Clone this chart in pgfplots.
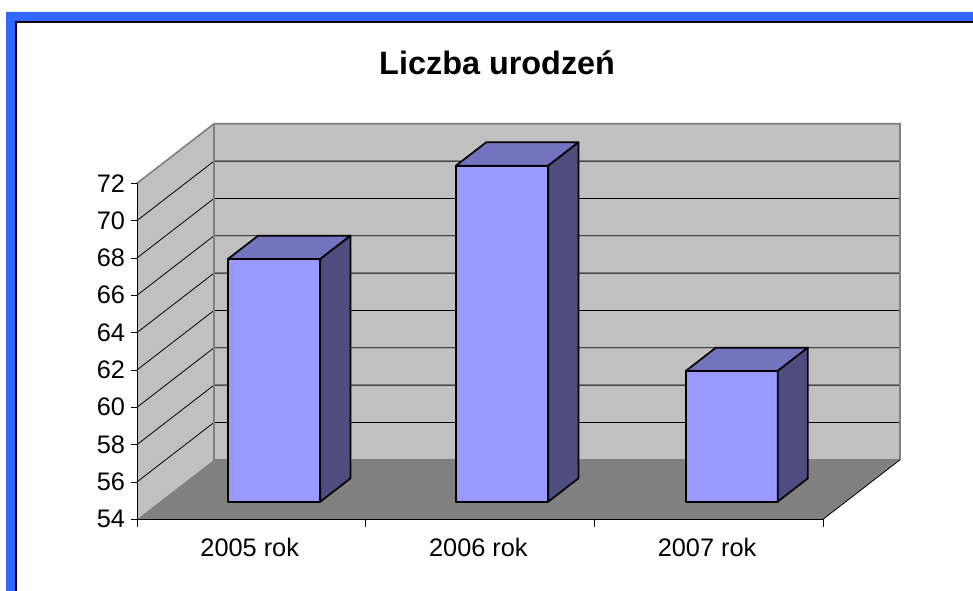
\documentclass[border=0pt]{standalone}
\usepackage{fontspec}
\setmainfont{Liberation Sans}
\usepackage{pgfplots}
\pgfplotsset{compat=1.18}
\definecolor{frameblue}{HTML}{3366FF}
\definecolor{wall}{HTML}{C0C0C0}
\definecolor{floorgrey}{HTML}{808080}
\definecolor{barfront}{HTML}{9999FF}
\definecolor{bartop}{HTML}{7373BF}
\definecolor{barside}{HTML}{4D4D80}
% one bar: x from, x to, value
\newcommand{\threedbar}[3]{
  \addplot3[fill=barfront, draw=black, line width=1.3pt, line join=round] coordinates {(#1,0.296,54) (#2,0.296,54) (#2,0.296,#3) (#1,0.296,#3)} -- cycle;
  \addplot3[fill=bartop, draw=black, line width=1.3pt, line join=round] coordinates {(#1,0.296,#3) (#2,0.296,#3) (#2,0.688,#3) (#1,0.688,#3)} -- cycle;
  \addplot3[fill=barside, draw=black, line width=1.3pt, line join=round] coordinates {(#2,0.296,54) (#2,0.688,54) (#2,0.688,#3) (#2,0.296,#3)} -- cycle;
}
\begin{document}
\begin{tikzpicture}[x=0.75pt,y=0.75pt]
  \path[use as bounding box, fill=white] (0,0) rectangle (973,591);
  \fill[frameblue] (6,0) -- (6,579) -- (973,579) -- (973,570) -- (15,570) -- (15,0) -- cycle;
  \draw[black, line width=1.1pt] (16,0) -- (16,569) -- (973,569);
  \begin{axis}[
      at={(102.75pt,53.8pt)}, anchor=origin,
      x={(171.5pt,0pt)}, y={(57.75pt,44.6pt)}, z={(0pt,14pt)},
      xmin=0, xmax=3, ymin=0, ymax=1, zmin=54, zmax=72,
      clip=false,
      axis lines=left,
      axis line style={-, black, line width=0.6pt},
      y axis line style={draw=none},
      ytick=\empty,
      xtick={0,1,2,3},
      x tick label as interval,
      xticklabels={2005 rok,2006 rok,2007 rok},
      ztick={54,56,...,72},
      major tick length=0pt,
      tick label style={font=\fontsize{19}{20}\selectfont},
      x tick label style={anchor=center, yshift=-21pt, xshift=-1.2pt},
      z tick label style={anchor=east, xshift=-5.5pt},
      /pgf/number format/assume math mode=true,
      title={\bfseries Liczba urodzeń},
      title style={font=\fontsize{24.3}{28}\selectfont, at={(axis description cs:0.472,1.135)}, anchor=center},
    ]
    % walls and floor
    \addplot3[fill=wall, draw=none] coordinates {(0,0,54) (0,1,54) (0,1,72) (0,0,72)} -- cycle;
    \addplot3[fill=wall, draw=none] coordinates {(0,1,54) (3,1,54) (3,1,72) (0,1,72)} -- cycle;
    \addplot3[fill=floorgrey, draw=none] coordinates {(0,0,54) (3,0,54) (3,1,54) (0,1,54)} -- cycle;
    % grid lines on the walls
    \pgfplotsinvokeforeach{56,58,...,70}{
      \addplot3[black, line width=0.6pt] coordinates {(0,0,#1) (0,1,#1) (3,1,#1)};
    }
    % wall borders
    \addplot3[floorgrey, line width=1.2pt] coordinates {(0,0,72) (0,1,72) (3,1,72) (3,1,54)};
    \addplot3[floorgrey, line width=1.2pt] coordinates {(0,1,72) (0,1,54) (3,1,54)};
    \addplot3[black, line width=0.6pt] coordinates {(3,0,54) (3,1,54)};
    % front axis lines and tick marks: the axis' own ticks would lean along the depth direction
    \addplot3[black, line width=0.7pt] coordinates {(0,0,72) (0,0,54) (3,0,54)};
    \pgfplotsinvokeforeach{54,56,...,72}{
      \addplot3[black, line width=0.6pt] coordinates {(-0.026,0,#1) (0,0,#1)};
    }
    \pgfplotsinvokeforeach{0,1,2,3}{
      \addplot3[black, line width=0.6pt] coordinates {(#1,0,53.6) (#1,0,54)};
    }
    % bars
    \threedbar{0.298}{0.702}{67}
    \threedbar{1.295}{1.699}{72}
    \threedbar{2.300}{2.702}{61}
  \end{axis}
\end{tikzpicture}
\end{document}
